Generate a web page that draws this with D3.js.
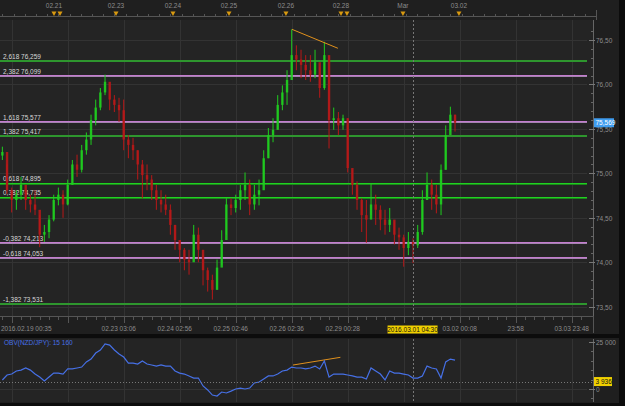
<!DOCTYPE html>
<html><head><meta charset="utf-8">
<script src="https://cdn.jsdelivr.net/npm/d3@7"></script>
<style>
html,body{margin:0;padding:0;background:#1f1f1f;}
svg{display:block;font-family:"Liberation Sans",Arial,sans-serif;}
</style></head><body>
<svg id="c" width="625" height="406"></svg>
<script>
// ---------- DATA (2-hour bars, NZD/JPY) ----------
const firstOpen = 75.20;
const highs = [75.30,75.10,74.84,74.81,74.96,74.81,74.76,74.81,74.53,74.42,
  74.53,74.76,74.84,74.81,74.93,75.15,75.21,75.32,75.46,75.66,
  75.83,75.96,76.11,75.96,75.88,75.85,75.83,75.43,75.40,75.26,
  75.15,75.10,74.98,74.87,74.81,74.76,74.65,74.42,74.25,74.16,
  74.14,74.42,74.39,74.08,73.94,73.86,74.03,74.36,74.72,74.72,
  74.76,74.87,75.01,74.93,74.87,74.93,75.26,75.51,75.62,75.88,
  75.99,76.16,76.62,76.44,76.39,76.33,76.33,76.39,76.19,76.48,
  76.05,75.74,75.69,75.66,75.62,75.04,74.91,74.72,74.70,74.89,
  74.76,74.64,74.59,74.61,74.46,74.39,74.31,74.34,74.27,74.42,
  74.81,75.01,74.93,74.87,75.10,75.54,75.75,75.66];
const lows = [75.15,74.77,74.56,74.59,74.70,74.59,74.56,74.53,74.17,74.23,
  74.27,74.46,74.64,74.50,74.64,74.87,74.96,75.01,75.21,75.32,
  75.54,75.71,75.88,75.71,75.69,75.58,75.26,75.17,75.15,74.93,
  74.72,74.81,74.70,74.59,74.56,74.53,74.31,74.14,74.00,73.91,
  73.86,74.05,74.00,73.74,73.67,73.58,73.69,73.97,74.31,74.53,
  74.56,74.59,74.70,74.53,74.59,74.64,74.87,75.17,75.35,75.49,
  75.71,75.77,76.11,76.16,76.07,76.05,76.03,76.07,75.85,75.94,
  75.28,75.49,75.43,75.49,75.01,74.76,74.59,74.34,74.22,74.53,
  74.42,74.36,74.31,74.34,74.20,74.14,73.95,74.08,73.99,74.16,
  74.31,74.70,74.59,74.55,74.53,75.04,75.47,75.47];
const closes = [75.24,74.81,74.70,74.76,74.87,74.70,74.65,74.59,74.31,74.34,
  74.48,74.70,74.76,74.65,74.87,75.10,75.04,75.26,75.38,75.60,
  75.74,75.91,76.03,75.83,75.77,75.71,75.38,75.32,75.26,75.10,
  74.98,74.93,74.81,74.70,74.65,74.59,74.42,74.25,74.14,74.03,
  74.00,74.31,74.14,73.91,73.80,73.69,73.94,74.25,74.65,74.61,
  74.70,74.81,74.87,74.65,74.76,74.81,75.17,75.43,75.49,75.77,
  75.91,76.05,76.33,76.28,76.22,76.16,76.11,76.25,75.96,76.33,
  75.60,75.62,75.54,75.62,75.06,74.87,74.70,74.53,74.48,74.65,
  74.59,74.48,74.42,74.48,74.31,74.28,74.16,74.23,74.19,74.34,
  74.70,74.87,74.76,74.65,75.04,75.43,75.66,75.57];
const obvValues = [4750,7400,7900,9500,10000,11100,10000,7900,6300,4200,
  6300,8400,8400,7900,10600,10600,11100,11600,14300,15800,
  19000,20600,23800,23200,20600,18500,16900,13700,13700,13200,
  14800,13200,12700,12100,12700,12100,12100,9500,8400,7900,
  6900,5800,5800,1600,-500,-3200,-3700,-1600,-2100,-1100,
  0,500,0,500,3200,3700,5300,6900,6900,7900,
  9500,10000,11600,11100,11100,10600,11100,12100,10600,14800,
  6300,7900,7900,7900,7400,6900,6300,6300,5300,11100,
  9500,7900,4800,9500,8400,8400,7900,7400,5800,5800,
  6900,12100,11100,10600,5800,14300,15800,15300];

const fibRatios = ["2,618","2,382","1,618","1,382","0,618","0,382","-0,382","-0,618","-1,382"];
const fibLevels = [76.259,76.099,75.577,75.417,74.895,74.735,74.213,74.053,73.531];
const fibKinds  = ["outer","violet","violet","outer","inner","inner","violet","violet","outer"];

const priceTicks = [73.5,74.0,74.5,75.0,75.5,76.0,76.5];
const obvTicks = [0,25000];
const gridBars = [2,14,26,38,50,62,74,86,98,110,122];
const bottomLabelBars = [0,26,38,50,62,74,98,110,122];
const bottomLabelTexts = ["2016.02.19 00:35","02.23 03:06","02.24 02:56","02.25 02:46","02.26 02:36","02.29 00:28","03.02 00:08","23:58","03.03 23:48"];
const topLabelBars = [11.06,24.35,36.56,48.56,60.77,72.56,85.84,97.84];
const topLabelTexts = ["02.21","02.23","02.24","02.25","02.26","02.28","Mar","03.02"];
const dayMarkBars = [11.06,12.35,24.35,36.56,48.56,60.77,72.56,73.84,85.84,97.84];
const trendPriceBars = [62.06,71.9], trendPriceVals = [76.62,76.407];
const trendObvBars = [62.28,72.43], trendObvVals = [12670,16740];
const lastPrice = 75.569;
const crossBar = 87.9, crossLabel = "2016.03.01 04:30", crossObv = 3936;
const obvTitle = "OBV(NZD/JPY): 15 160";

// ---------- LAYOUT ----------
const svg = d3.select("#c");
const PL = 0, PR = 587, AX = 593;
const mainTop = 20, mainBot = 316, obvTop = 339, obvBot = 402;
const x = d3.scaleLinear().domain([0,12]).range([2.37, 2.37+56]);
const y = d3.scaleLinear().domain([73.5,76.5]).range([306.7,40]);
const yo = d3.scaleLinear().domain([0,25000]).range([389,341.7]);
const comma = v => d3.format(".2f")(v).replace(".",",");
const comma3 = v => d3.format(".3f")(v).replace(".",",");
const spaceInt = v => d3.format(",")(v).replace(/,/g," ");

svg.append("rect").attr("width",625).attr("height",406).attr("fill","#1f1f1f");
svg.append("rect").attr("x",PL).attr("y",mainTop).attr("width",AX-PL).attr("height",mainBot-mainTop).attr("fill","#242424");
svg.append("rect").attr("x",PL).attr("y",obvTop).attr("width",AX-PL).attr("height",obvBot-obvTop).attr("fill","#242424");
svg.append("rect").attr("x",0).attr("y",334).attr("width",625).attr("height",4).attr("fill","#0c0c0c");
svg.append("rect").attr("x",0).attr("y",403).attr("width",625).attr("height",3).attr("fill","#0c0c0c");
svg.append("rect").attr("x",619).attr("y",0).attr("width",6).attr("height",406).attr("fill","#0c0c0c");

// grid
const grid = svg.append("g").attr("stroke","#333").attr("stroke-width",1);
gridBars.forEach(b=>{
  const gx = Math.round(x(b))+0.5;
  grid.append("line").attr("x1",gx).attr("x2",gx).attr("y1",mainTop).attr("y2",mainBot);
  grid.append("line").attr("x1",gx).attr("x2",gx).attr("y1",obvTop).attr("y2",obvBot);
});
priceTicks.forEach(p=>{
  const gy = Math.round(y(p))+0.5;
  grid.append("line").attr("x1",PL).attr("x2",PR).attr("y1",gy).attr("y2",gy);
});
grid.append("line").attr("x1",PL).attr("x2",PR).attr("y1",Math.round(yo(0))+0.5).attr("y2",Math.round(yo(0))+0.5);

// fib lines
const fg = svg.append("g").attr("shape-rendering","crispEdges");
fibLevels.forEach((lv,i)=>{
  const k = fibKinds[i];
  const ly = Math.round(y(lv));
  if(k==="outer"){
    fg.append("rect").attr("x",PL).attr("width",PR-PL).attr("y",ly-1).attr("height",2).attr("fill","#2e962e");
  } else if(k==="inner"){
    fg.append("rect").attr("x",PL).attr("width",PR-PL).attr("y",ly).attr("height",1).attr("fill","#22d022");
    fg.append("rect").attr("x",PL).attr("width",PR-PL).attr("y",ly+1).attr("height",1).attr("fill","#1a8a1a");
  } else {
    fg.append("rect").attr("x",PL).attr("width",PR-PL).attr("y",ly-1).attr("height",1).attr("fill","#c47ccf");
    fg.append("rect").attr("x",PL).attr("width",PR-PL).attr("y",ly).attr("height",1).attr("fill","#a583b0");
  }
  fg.append("text").attr("x",3).attr("y",ly-2.5).attr("fill","#d8d8d8").attr("shape-rendering","auto")
    .attr("font-size",6.5).text(fibRatios[i]+" "+comma3(lv));
});

// candles
const opens = closes.map((c,i)=> i===0 ? firstOpen : closes[i-1]);
const cg = svg.append("g");
closes.forEach((c,i)=>{
  const o = opens[i], up = c>=o;
  const col = up ? "#1fcc1f" : "#b81818";
  const cx = x(i);
  cg.append("line").attr("x1",cx).attr("x2",cx).attr("y1",y(highs[i])).attr("y2",y(lows[i]))
    .attr("stroke",col).attr("stroke-width",1);
  const top = y(Math.max(o,c)), bot = y(Math.min(o,c));
  cg.append("rect").attr("x",cx-1.2).attr("y",top).attr("width",2.4).attr("height",Math.max(1,bot-top))
    .attr("fill",col).attr("opacity",0.9);
});

// trend lines
svg.append("line").attr("x1",x(trendPriceBars[0])).attr("y1",y(trendPriceVals[0]))
  .attr("x2",x(trendPriceBars[1])).attr("y2",y(trendPriceVals[1]))
  .attr("stroke","#e0901c").attr("stroke-width",1);
svg.append("line").attr("x1",x(trendObvBars[0])).attr("y1",yo(trendObvVals[0]))
  .attr("x2",x(trendObvBars[1])).attr("y2",yo(trendObvVals[1]))
  .attr("stroke","#e0901c").attr("stroke-width",1);

// OBV line
svg.append("path").datum(obvValues)
  .attr("d", d3.line().x((d,i)=>x(i)).y(d=>yo(d)))
  .attr("fill","none").attr("stroke","#4670e6").attr("stroke-width",1.2);
svg.append("text").attr("x",4).attr("y",345).attr("fill","#4670e6").attr("font-size",6.5).text(obvTitle);

// crosshair
const cxh = Math.round(x(crossBar))+0.5;
svg.append("line").attr("x1",cxh).attr("x2",cxh).attr("y1",mainTop).attr("y2",mainBot)
  .attr("stroke","#777").attr("stroke-dasharray","2,2");
svg.append("line").attr("x1",cxh).attr("x2",cxh).attr("y1",obvTop).attr("y2",obvBot)
  .attr("stroke","#777").attr("stroke-dasharray","2,2");
svg.append("line").attr("x1",PL).attr("x2",AX).attr("y1",Math.round(yo(crossObv))+0.5).attr("y2",Math.round(yo(crossObv))+0.5)
  .attr("stroke","#777").attr("stroke-dasharray","1,2");

// right price axis
const ra = svg.append("g");
ra.append("line").attr("x1",AX+0.5).attr("x2",AX+0.5).attr("y1",mainTop).attr("y2",mainBot).attr("stroke","#666");
d3.range(73.4,76.65,0.1).forEach(p=>{
  const ty = Math.round(y(p))+0.5;
  if(ty<mainTop||ty>mainBot) return;
  ra.append("line").attr("x1",AX-2).attr("x2",AX).attr("y1",ty).attr("y2",ty).attr("stroke","#666");
});
priceTicks.forEach(p=>{
  const ty = Math.round(y(p))+0.5;
  ra.append("line").attr("x1",AX-4).attr("x2",AX+2).attr("y1",ty).attr("y2",ty).attr("stroke","#777");
  ra.append("text").attr("x",AX+3).attr("y",ty+2.5).attr("fill","#8c8c8c").attr("font-size",6.5).text(comma(p));
});
ra.append("rect").attr("x",AX+1).attr("y",y(lastPrice)-4.5).attr("width",20).attr("height",9).attr("fill","#3f9df0");
ra.append("text").attr("x",AX+2.5).attr("y",y(lastPrice)+2.5).attr("fill","#ffffff").attr("font-size",6.5).text(comma3(lastPrice));

// OBV right axis
const oa = svg.append("g");
oa.append("line").attr("x1",AX+0.5).attr("x2",AX+0.5).attr("y1",obvTop).attr("y2",obvBot).attr("stroke","#666");
d3.range(-5000,25001,5000).forEach(v=>{
  const ty = Math.round(yo(v))+0.5;
  oa.append("line").attr("x1",AX-2).attr("x2",AX).attr("y1",ty).attr("y2",ty).attr("stroke","#666");
});
obvTicks.forEach(v=>{
  const ty = Math.round(yo(v))+0.5;
  oa.append("line").attr("x1",AX-4).attr("x2",AX+2).attr("y1",ty).attr("y2",ty).attr("stroke","#777");
  oa.append("text").attr("x",AX+3).attr("y",ty+2.5).attr("fill","#8c8c8c").attr("font-size",6.5).text(spaceInt(v));
});
oa.append("rect").attr("x",AX+1).attr("y",yo(crossObv)-4.5).attr("width",18).attr("height",9).attr("fill","#f0d000");
oa.append("text").attr("x",AX+2.5).attr("y",yo(crossObv)+2.5).attr("fill","#111").attr("font-size",6.5).text(spaceInt(crossObv));

// bottom time axis
const ba = svg.append("g");
ba.append("line").attr("x1",PL).attr("x2",AX).attr("y1",316.5).attr("y2",316.5).attr("stroke","#555");
ba.append("line").attr("x1",AX+0.5).attr("x2",AX+0.5).attr("y1",316).attr("y2",333).attr("stroke","#555");
d3.range(0,126,2).forEach(b=>{
  const tx = Math.round(x(b))+0.5;
  if(tx>AX) return;
  const major = (b-2)%12===0;
  ba.append("line").attr("x1",tx).attr("x2",tx).attr("y1",317).attr("y2",major?323:320).attr("stroke","#555");
});
bottomLabelBars.forEach((b,i)=>{
  const t = ba.append("text").attr("y",331).attr("fill","#8c8c8c").attr("font-size",6.5).text(bottomLabelTexts[i]);
  if(i===0) t.attr("x",1); else t.attr("x",x(b)-(i<6?5:0)).attr("text-anchor","middle");
});
ba.append("rect").attr("x",x(crossBar)-25).attr("y",325.5).attr("width",50).attr("height",8).attr("fill","#f0d000");
ba.append("text").attr("x",x(crossBar)).attr("y",331.5).attr("text-anchor","middle").attr("fill","#111").attr("font-size",6.5).text(crossLabel);

// top date axis
const ta = svg.append("g");
ta.append("line").attr("x1",PL).attr("x2",596).attr("y1",16.5).attr("y2",16.5).attr("stroke","#555");
ta.append("line").attr("x1",596.5).attr("x2",596.5).attr("y1",10).attr("y2",20).attr("stroke","#555");
d3.range(0,126,2.4).forEach(b=>{
  const tx = Math.round(x(b))+0.5;
  if(tx>AX) return;
  ta.append("line").attr("x1",tx).attr("x2",tx).attr("y1",14).attr("y2",16.5).attr("stroke","#555");
});
topLabelBars.forEach((b,i)=>{
  ta.append("text").attr("x",x(b)).attr("y",8).attr("text-anchor","middle").attr("fill","#8c8c8c").attr("font-size",6.5).text(topLabelTexts[i]);
});
dayMarkBars.forEach(b=>{
  const tx = x(b);
  ta.append("path").attr("d",`M${tx-2.5},11.5L${tx+2.5},11.5L${tx},16Z`).attr("fill","#d99a10");
});
</script>
</body></html>
